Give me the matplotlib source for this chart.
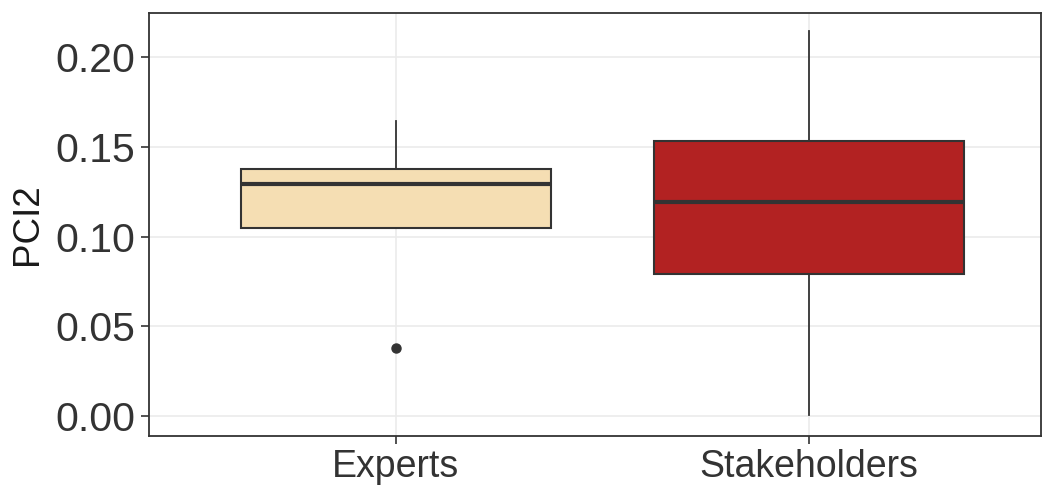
import matplotlib
matplotlib.use("Agg")
import matplotlib.pyplot as plt

plt.rcParams['font.family'] = ['Liberation Sans', 'DejaVu Sans']

# Box summary values per group
groups = ["Experts", "Stakeholders"]
whisker_low = [0.1050, 0.0007]
q1 = [0.1050, 0.0791]
median = [0.1292, 0.1192]
q3 = [0.1375, 0.1531]
whisker_high = [0.1646, 0.2147]
outliers = [[0.0379], []]
fills = ["#F5DEB3", "#B22222"]

yticks = [0.00, 0.05, 0.10, 0.15, 0.20]
ytick_labels = ["0.00", "0.05", "0.10", "0.15", "0.20"]

fig = plt.figure(figsize=(10.44, 4.86), dpi=100)
ax = fig.add_axes([149 / 1044, 1 - 436 / 486, (1041 - 149) / 1044, (436 - 13) / 486])

stats = []
for i, g in enumerate(groups):
    stats.append(dict(label=g, whislo=whisker_low[i], q1=q1[i], med=median[i],
                      q3=q3[i], whishi=whisker_high[i], fliers=outliers[i]))

positions = list(range(1, len(groups) + 1))
edge = "#333333"
bp = ax.bxp(stats, positions=positions, widths=0.75, patch_artist=True,
            showcaps=False,
            boxprops=dict(edgecolor=edge, linewidth=1.5),
            medianprops=dict(color=edge, linewidth=3.0),
            whiskerprops=dict(color=edge, linewidth=1.3),
            flierprops=dict(marker="o", markerfacecolor=edge, markeredgecolor=edge,
                            markersize=6.5))
for patch, c in zip(bp["boxes"], fills):
    patch.set_facecolor(c)
    patch.set_zorder(2)
for key in ("whiskers", "medians", "fliers"):
    for art in bp[key]:
        art.set_zorder(3)

ax.set_xlim(0.402, 2.562)
ax.set_ylim(-0.0111, 0.2246)
ax.set_xticks(positions)
ax.set_xticklabels(groups)
ax.set_yticks(yticks)
ax.set_yticklabels(ytick_labels)

ax.grid(True, color="#EBEBEB", linewidth=1.2, zorder=0)
ax.set_axisbelow(True)
for s in ax.spines.values():
    s.set_color("#333333")
    s.set_linewidth(1.3)

ax.tick_params(axis="both", colors="#333333", length=6, width=1.2,
               labelcolor="#333333")
ax.tick_params(axis="x", labelsize=27, pad=3)
ax.tick_params(axis="y", labelsize=29.5, pad=4)
ax.set_ylabel("PCI2", fontsize=26.5, color="#1a1a1a", labelpad=7)

fig.savefig("out.png", dpi=100)
